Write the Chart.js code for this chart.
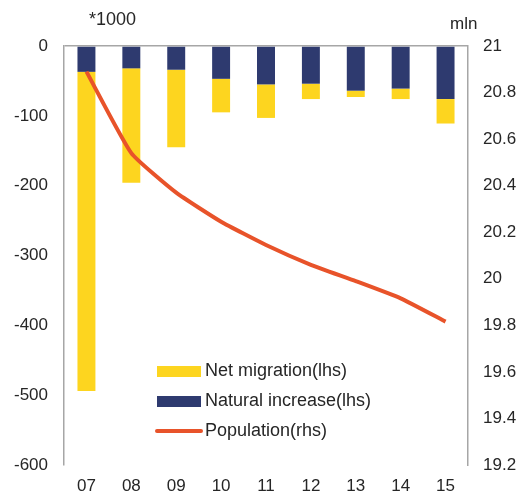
<!DOCTYPE html>
<html>
<head>
<meta charset="utf-8">
<script src="https://cdn.jsdelivr.net/npm/chart.js@4"></script>
<style>
  html, body { margin: 0; padding: 0; background: #fff; }
  #wrap { width: 521px; height: 493px; }
</style>
</head>
<body>
<div id="wrap"><canvas id="popChart"></canvas></div>
<script>
const years = ['07', '08', '09', '10', '11', '12', '13', '14', '15'];
const netMigration = [-457, -164, -111, -48, -48, -22, -9, -15, -35];
const naturalIncrease = [-37, -32, -34, -47, -55, -54, -64, -61, -76];
const population = [20.89, 20.54, 20.37, 20.245, 20.145, 20.06, 19.99, 19.916, 19.816];

const leftTicks = [0, -100, -200, -300, -400, -500, -600];
const rightTicks = [21, 20.8, 20.6, 20.4, 20.2, 20, 19.8, 19.6, 19.4, 19.2];

const legendItems = [
    { label: 'Net migration(lhs)', color: '#FDD51F', kind: 'box' },
    { label: 'Natural increase(lhs)', color: '#2E3A6F', kind: 'box' },
    { label: 'Population(rhs)', color: '#E8532A', kind: 'line' }
];

const textColor = '#262626';
const axisColor = '#A6A6A6';
const fontFamily = '"Liberation Sans", Arial, sans-serif';

// legend + unit labels drawn by hand so they sit where the original has them
const extrasPlugin = {
    id: 'extras',
    afterDraw(chart) {
        const c = chart.ctx;
        c.save();
        c.fillStyle = textColor;
        c.textBaseline = 'middle';
        c.textAlign = 'left';
        c.font = '18px ' + fontFamily;
        c.fillText('*1000', 89, 20);
        c.font = '17px ' + fontFamily;
        c.fillText('mln', 450, 24);

        c.font = '18px ' + fontFamily;
        legendItems.forEach((item, i) => {
            const y = 371 + i * 30;
            if (item.kind === 'box') {
                c.fillStyle = item.color;
                c.fillRect(157, y - 5, 44, 11);
            } else {
                c.strokeStyle = item.color;
                c.lineWidth = 4;
                c.lineCap = 'round';
                c.beginPath();
                c.moveTo(157, y);
                c.lineTo(201, y);
                c.stroke();
            }
            c.fillStyle = textColor;
            c.fillText(item.label, 205, y);
        });
        c.restore();
    }
};

const ctx = document.getElementById('popChart').getContext('2d');
const popChart = new Chart(ctx, {
    type: 'bar',
    data: {
        labels: years,
        datasets: [
            {
                label: 'Natural increase(lhs)',
                data: naturalIncrease,
                backgroundColor: '#2E3A6F',
                yAxisID: 'y',
                stack: 'lhs',
                order: 1,
                barPercentage: 0.8,
                categoryPercentage: 0.5
            },
            {
                label: 'Net migration(lhs)',
                data: netMigration,
                backgroundColor: '#FDD51F',
                yAxisID: 'y',
                stack: 'lhs',
                order: 1,
                barPercentage: 0.8,
                categoryPercentage: 0.5
            },
            {
                type: 'line',
                label: 'Population(rhs)',
                data: population,
                borderColor: '#E8532A',
                borderWidth: 4,
                pointRadius: 0,
                tension: 0.15,
                yAxisID: 'y2',
                order: 0
            }
        ]
    },
    options: {
        responsive: true,
        maintainAspectRatio: false,
        animation: false,
        layout: { padding: { top: 46, left: 0, right: 0, bottom: 0 } },
        plugins: {
            legend: { display: false },
            tooltip: { enabled: false }
        },
        scales: {
            x: {
                stacked: true,
                grid: { display: false, drawTicks: false },
                border: { display: false },
                ticks: {
                    color: textColor,
                    font: { size: 17, family: fontFamily },
                    padding: 11
                },
                afterFit(scale) { scale.height = 28; }
            },
            y: {
                position: 'left',
                stacked: true,
                min: -600,
                max: 0,
                afterBuildTicks(scale) {
                    scale.ticks = leftTicks.map(v => ({ value: v }));
                },
                grid: {
                    drawTicks: false,
                    color: c => (c.tick && c.tick.value === 0) ? axisColor : 'transparent',
                    lineWidth: 1.5
                },
                border: { display: true, color: axisColor, width: 1.5 },
                ticks: {
                    color: textColor,
                    font: { size: 17, family: fontFamily },
                    padding: 16
                },
                afterFit(scale) { scale.width = 64; }
            },
            y2: {
                position: 'right',
                min: 19.2,
                max: 21,
                afterBuildTicks(scale) {
                    scale.ticks = rightTicks.map(v => ({ value: v }));
                },
                grid: { drawOnChartArea: false, drawTicks: false },
                border: { display: true, color: axisColor, width: 1.5 },
                ticks: {
                    color: textColor,
                    font: { size: 17, family: fontFamily },
                    padding: 15,
                    callback: v => String(Number(v.toFixed(1)))
                },
                afterFit(scale) { scale.width = 53; }
            }
        }
    },
    plugins: [extrasPlugin]
});
</script>
</body>
</html>
